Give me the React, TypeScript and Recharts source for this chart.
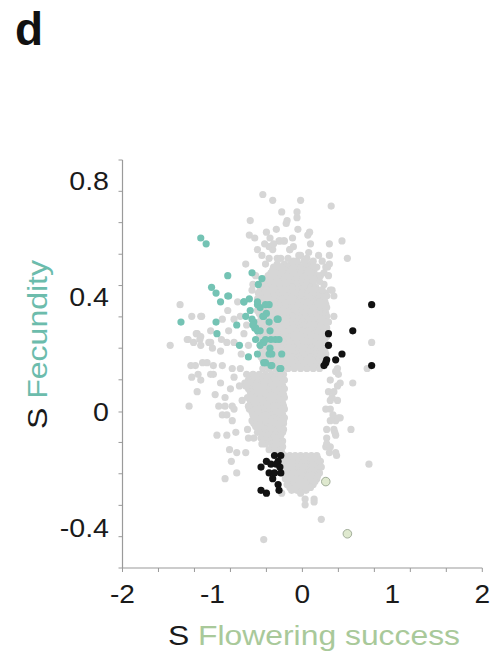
import { Scatter, ScatterChart, XAxis, YAxis } from "recharts";

// tick values
const xTickLabels = [-2, -1, 0, 1, 2];
const xMinorTicks = [-2, -1.6, -1.2, -0.8, -0.4, 0, 0.4, 0.8, 1.2, 1.6, 2];
const yTickLabels = [-0.4, 0, 0.4, 0.8];
const yMinorTicks = [0.869, 0.761, 0.653, 0.544, 0.436, 0.328, 0.22, 0.111, 0, -0.105, -0.213, -0.322, -0.43, -0.538];

// dense gray cloud, rows of [y, xs]
const grayUpperRows: [number, number[]][] = [
	[0.51, [-0.28, -0.2, -0.13, -0.05, 0.03, 0.09]],
	[0.5, [-0.32, -0.24, -0.16, -0.09, -0.01, 0.06, 0.12]],
	[0.49, [-0.33, -0.26, -0.19, -0.12, -0.06, 0.01, 0.07, 0.13]],
	[0.48, [-0.35, -0.29, -0.22, -0.15, -0.08, -0.02, 0.05, 0.11]],
	[0.47, [-0.38, -0.31, -0.24, -0.17, -0.1, -0.03, 0.04, 0.1, 0.16]],
	[0.46, [-0.41, -0.33, -0.26, -0.19, -0.13, -0.06, 0.01, 0.08, 0.14]],
	[0.45, [-0.42, -0.35, -0.28, -0.22, -0.15, -0.08, -0.01, 0.05, 0.12]],
	[0.44, [-0.43, -0.37, -0.3, -0.23, -0.16, -0.09, -0.02, 0.05, 0.12]],
	[0.43, [-0.46, -0.39, -0.32, -0.25, -0.18, -0.11, -0.04, 0.02, 0.09, 0.15]],
	[0.42, [-0.47, -0.4, -0.33, -0.27, -0.2, -0.13, -0.06, 0.01, 0.08, 0.15, 0.21]],
	[0.41, [-0.49, -0.42, -0.35, -0.28, -0.21, -0.14, -0.07, 0, 0.07, 0.13, 0.2, 0.25]],
	[0.4, [-0.46, -0.39, -0.32, -0.25, -0.18, -0.11, -0.04, 0.03, 0.1, 0.16, 0.22, 0.27]],
	[0.39, [-0.5, -0.44, -0.37, -0.3, -0.23, -0.16, -0.09, -0.02, 0.05, 0.11, 0.18, 0.24]],
	[0.38, [-0.43, -0.36, -0.29, -0.22, -0.15, -0.08, -0.01, 0.06, 0.13, 0.19, 0.25]],
	[0.37, [-0.47, -0.4, -0.33, -0.26, -0.19, -0.12, -0.05, 0.02, 0.08, 0.15, 0.21, 0.26]],
	[0.36, [-0.46, -0.39, -0.32, -0.25, -0.18, -0.11, -0.04, 0.03, 0.1, 0.16, 0.23, 0.27]],
	[0.35, [-0.5, -0.43, -0.36, -0.29, -0.22, -0.15, -0.08, -0.01, 0.06, 0.12, 0.19, 0.25]],
	[0.34, [-0.48, -0.41, -0.34, -0.27, -0.2, -0.13, -0.06, 0.01, 0.08, 0.14, 0.2, 0.26]],
	[0.33, [-0.46, -0.39, -0.32, -0.25, -0.18, -0.11, -0.04, 0.03, 0.1, 0.16, 0.22, 0.27]],
	[0.32, [-0.44, -0.37, -0.3, -0.23, -0.16, -0.09, -0.02, 0.05, 0.11, 0.17, 0.24]],
	[0.31, [-0.49, -0.42, -0.35, -0.28, -0.21, -0.14, -0.07, 0, 0.07, 0.13, 0.19, 0.25]],
	[0.3, [-0.47, -0.4, -0.33, -0.26, -0.19, -0.12, -0.05, 0.02, 0.08, 0.15, 0.21, 0.26]],
	[0.29, [-0.45, -0.38, -0.31, -0.24, -0.17, -0.1, -0.03, 0.04, 0.1, 0.16, 0.22, 0.27]],
	[0.28, [-0.43, -0.36, -0.29, -0.22, -0.15, -0.08, -0.01, 0.06, 0.12, 0.18, 0.24]],
	[0.27, [-0.48, -0.41, -0.34, -0.27, -0.2, -0.13, -0.06, 0.01, 0.07, 0.14, 0.2, 0.26]],
	[0.26, [-0.46, -0.39, -0.32, -0.25, -0.18, -0.11, -0.04, 0.03, 0.09, 0.16, 0.22, 0.27]],
	[0.25, [-0.44, -0.37, -0.3, -0.23, -0.16, -0.09, -0.02, 0.05, 0.11, 0.18, 0.24]],
	[0.24, [-0.42, -0.35, -0.28, -0.21, -0.14, -0.07, 0, 0.07, 0.13, 0.2, 0.25]],
	[0.23, [-0.47, -0.4, -0.33, -0.26, -0.19, -0.12, -0.05, 0.02, 0.08, 0.15, 0.21, 0.26]],
	[0.22, [-0.45, -0.38, -0.31, -0.24, -0.17, -0.1, -0.03, 0.04, 0.1, 0.17, 0.23]],
	[0.21, [-0.43, -0.36, -0.29, -0.22, -0.15, -0.08, -0.01, 0.06, 0.12, 0.19, 0.25]],
	[0.2, [-0.41, -0.34, -0.27, -0.2, -0.13, -0.06, 0.01, 0.07, 0.14, 0.2, 0.26]],
	[0.19, [-0.46, -0.39, -0.32, -0.25, -0.18, -0.11, -0.04, 0.03, 0.09, 0.16, 0.22]],
	[0.18, [-0.44, -0.37, -0.3, -0.23, -0.16, -0.09, -0.02, 0.05, 0.11, 0.18, 0.23]],
	[0.17, [-0.42, -0.35, -0.28, -0.21, -0.14, -0.07, 0, 0.06, 0.13, 0.2, 0.24]],
	[0.16, [-0.4, -0.33, -0.26, -0.19, -0.12, -0.05, 0.02, 0.09, 0.15, 0.22]],
	[0.15, [-0.44, -0.37, -0.3, -0.23, -0.16, -0.09, -0.02, 0.05, 0.12, 0.19]],
];

const grayColumnRows: [number, number[]][] = [
	[0.13, [-0.62, -0.55, -0.48, -0.41, -0.34, -0.27, -0.21]],
	[0.12, [-0.58, -0.51, -0.44, -0.37, -0.3, -0.24]],
	[0.11, [-0.6, -0.53, -0.46, -0.39, -0.32, -0.25, -0.2]],
	[0.1, [-0.64, -0.57, -0.5, -0.43, -0.36, -0.29, -0.23]],
	[0.09, [-0.63, -0.56, -0.49, -0.42, -0.35, -0.28, -0.22]],
	[0.08, [-0.6, -0.53, -0.46, -0.39, -0.32, -0.25, -0.2]],
	[0.07, [-0.58, -0.51, -0.44, -0.37, -0.3, -0.23]],
	[0.06, [-0.56, -0.49, -0.42, -0.35, -0.28, -0.21]],
	[0.05, [-0.61, -0.54, -0.47, -0.4, -0.33, -0.26, -0.2]],
	[0.04, [-0.58, -0.51, -0.44, -0.37, -0.3, -0.23]],
	[0.03, [-0.57, -0.5, -0.43, -0.36, -0.29, -0.22]],
	[0.02, [-0.6, -0.53, -0.46, -0.39, -0.32, -0.26, -0.21]],
	[0.01, [-0.59, -0.52, -0.45, -0.38, -0.31, -0.24, -0.2]],
	[0.0, [-0.56, -0.49, -0.42, -0.35, -0.28, -0.23]],
	[-0.01, [-0.55, -0.48, -0.41, -0.34, -0.27, -0.22]],
	[-0.02, [-0.52, -0.45, -0.38, -0.31, -0.25, -0.2]],
	[-0.03, [-0.56, -0.49, -0.42, -0.35, -0.28, -0.21]],
	[-0.04, [-0.54, -0.47, -0.4, -0.33, -0.26, -0.21]],
	[-0.05, [-0.52, -0.45, -0.38, -0.31, -0.24]],
	[-0.06, [-0.48, -0.41, -0.34, -0.27, -0.21]],
	[-0.07, [-0.5, -0.43, -0.36, -0.29, -0.22]],
	[-0.08, [-0.44, -0.37, -0.3, -0.24]],
	[-0.09, [-0.46, -0.39, -0.32, -0.25]],
	[-0.1, [-0.43, -0.36, -0.29, -0.22]],
	[-0.11, [-0.41, -0.34, -0.27, -0.23]],
	[-0.12, [-0.33, -0.27, -0.22]],
	[-0.13, [-0.37, -0.3, -0.25]],
	[-0.14, [-0.28, -0.23]],
];

const grayBottomRows: [number, number[]][] = [
	[-0.15, [-0.2, -0.14, -0.08, -0.02, 0.04, 0.1, 0.16]],
	[-0.16, [-0.19, -0.13, -0.07, -0.01, 0.05, 0.11, 0.17]],
	[-0.17, [-0.22, -0.16, -0.1, -0.04, 0.02, 0.08, 0.14, 0.2]],
	[-0.18, [-0.19, -0.13, -0.07, -0.01, 0.05, 0.11, 0.17]],
	[-0.19, [-0.2, -0.14, -0.08, -0.02, 0.04, 0.1, 0.16, 0.21]],
	[-0.2, [-0.19, -0.13, -0.07, -0.01, 0.05, 0.11, 0.17]],
	[-0.21, [-0.22, -0.16, -0.1, -0.04, 0.02, 0.08, 0.14, 0.19]],
	[-0.22, [-0.18, -0.12, -0.06, 0, 0.06, 0.12, 0.17]],
	[-0.23, [-0.19, -0.13, -0.07, -0.01, 0.05, 0.11, 0.16]],
	[-0.24, [-0.15, -0.09, -0.03, 0.03, 0.09, 0.14]],
	[-0.25, [-0.17, -0.11, -0.05, 0.01, 0.07, 0.12]],
	[-0.26, [-0.14, -0.08, -0.02, 0.04, 0.09]],
	[-0.27, [-0.12, -0.06, 0, 0.04]],
];

// scattered gray points [x, y]
const grayTop = [
	[-0.44, 0.75], [-0.33, 0.73], [-0.23, 0.69], [-0.58, 0.66], [-0.17, 0.66], [-0.29, 0.63], [-0.4, 0.62],
	[-0.59, 0.61], [-0.53, 0.6], [-0.36, 0.6], [-0.26, 0.59], [-0.21, 0.59], [-0.37, 0.57], [-0.5, 0.56],
	[-0.33, 0.56], [-0.45, 0.54], [-0.14, 0.56], [-0.28, 0.53], [-0.37, 0.53], [-0.63, 0.51], [-0.06, 0.52],
	[-0.02, 0.73], [-0.06, 0.69], [-0.06, 0.67], [0.32, 0.71], [-0.18, 0.65], [-0.05, 0.63], [0.08, 0.62],
	[0.06, 0.61], [-0.2, 0.59], [-0.25, 0.59], [-0.11, 0.6], [-0.42, 0.58], [-0.32, 0.58], [0.09, 0.58],
	[0.3, 0.58], [0.44, 0.59], [-0.1, 0.57], [-0.14, 0.56], [-0.04, 0.54], [0.07, 0.55], [0.18, 0.54],
	[0.5, 0.53], [0.3, 0.54], [-0.1, 0.52], [0.02, 0.52], [0.12, 0.52], [0.22, 0.52], [0.3, 0.51],
	[0.26, 0.5], [0.16, 0.5], [0.29, 0.47], [0.33, 0.42], [0.35, 0.4], [0.35, 0.33], [0.29, 0.31],
	[0.28, 0.5], [0.24, 0.44], [0.31, 0.42], [-0.24, 0.53], [-0.16, 0.53], [-0.02, 0.54], [0.05, 0.53],
	[-0.41, 0.51], [-0.52, 0.47], [-0.55, 0.44], [0.2, 0.47], [0.24, 0.48], [0.19, 0.45], [0.22, 0.42],
];

const grayLeft = [
	[-1.36, 0.37], [-1.23, 0.33], [-1.13, 0.33], [-0.72, 0.38], [-0.89, 0.32], [-0.83, 0.35], [-0.76, 0.32],
	[-1.02, 0.28], [-1.17, 0.27], [-1.27, 0.25], [-1.21, 0.24], [-1.14, 0.25], [-1.04, 0.24], [-1.47, 0.23],
	[-0.9, 0.25], [-0.76, 0.24], [-0.65, 0.27], [-0.69, 0.33], [-0.56, 0.42], [-1.12, 0.33], [-1.18, 0.27],
	[-1.13, 0.26], [-1.28, 0.25], [-1.13, 0.23], [-1.02, 0.24], [-1.0, 0.22], [-0.91, 0.21], [-0.82, 0.28],
	[-0.84, 0.24], [-1.24, 0.16], [-1.19, 0.16], [-1.11, 0.17], [-1.06, 0.17], [-0.99, 0.16], [-0.89, 0.16],
	[-1.23, 0.12], [-1.13, 0.11], [-0.99, 0.13], [-1.02, 0.13], [-0.76, 0.12], [-0.69, 0.15], [-0.78, 0.15],
	[-0.91, 0.1], [-0.8, 0.08], [-1.17, 0.07], [-0.97, 0.06], [-0.86, 0.05], [-0.78, 0.02], [-0.93, 0.02],
	[-0.67, 0.04], [-1.26, 0.02], [-0.86, 0.02], [-0.76, 0.01], [-0.89, -0.01], [-0.84, -0.01], [-0.78, -0.03],
	[-0.95, -0.08], [-0.84, -0.08], [-0.74, -0.07], [-0.61, -0.06], [-0.54, -0.09], [-0.81, -0.13],
	[-0.73, -0.14], [-0.63, -0.14], [-0.79, -0.17], [-0.45, -0.11], [-0.86, -0.23], [-0.73, -0.21],
	[-0.43, -0.44], [-1.16, 0.13], [-0.6, -0.09], [-0.7, 0.09], [-0.68, 0.2], [-0.6, 0.23], [-0.62, 0.3],
];

const grayRight = [
	[0.31, 0.11], [0.39, 0.09], [0.29, 0.07], [0.35, 0.07], [0.39, 0.04], [0.31, 0.04], [0.26, 0.01],
	[0.31, 0.01], [0.4, -0.02], [0.31, -0.03], [0.37, -0.03], [0.27, -0.06], [0.35, -0.06], [0.27, -0.09],
	[0.37, -0.08], [0.26, -0.12], [0.3, -0.14], [0.38, -0.15], [0.34, -0.01], [0.36, -0.07], [0.27, -0.11],
	[0.37, -0.14], [0.37, 0.14], [0.4, 0.13], [0.42, 0.1], [0.33, 0.05], [0.42, -0.02], [0.31, -0.12],
	[0.72, 0.15], [0.39, 0.15], [0.56, 0.1], [0.54, -0.06], [0.74, -0.18], [0.21, -0.37], [0.13, -0.31],
	[0.03, -0.32], [0.03, -0.3], [-0.02, -0.28], [-0.23, -0.28], [0.13, -0.3], [0.77, 0.24],
];

const tealPoints = [
	[-1.13, 0.6], [-1.07, 0.58], [-0.83, 0.47], [-1.01, 0.43], [-0.96, 0.41], [-0.83, 0.4], [-0.91, 0.38],
	[-1.35, 0.31], [-0.96, 0.31], [-0.95, 0.27], [-0.56, 0.48], [-0.45, 0.46], [-0.49, 0.44], [-0.65, 0.38],
	[-0.59, 0.39], [-0.73, 0.3], [-0.63, 0.33], [-0.5, 0.37], [-0.47, 0.36], [-0.37, 0.37], [-0.4, 0.34],
	[-0.44, 0.33], [-0.27, 0.32], [-0.56, 0.32], [-0.53, 0.29], [-0.37, 0.31], [-0.5, 0.28], [-0.36, 0.28],
	[-0.7, 0.23], [-0.52, 0.25], [-0.44, 0.24], [-0.35, 0.25], [-0.26, 0.25], [-0.6, 0.19], [-0.43, 0.24],
	[-0.36, 0.22], [-0.23, 0.2], [-0.37, 0.2], [-0.43, 0.17], [-0.35, 0.16], [-0.25, 0.15], [-0.5, 0.2],
	[-0.5, 0.38], [-0.41, 0.37], [-0.43, 0.33], [-0.54, 0.31], [-0.28, 0.32], [-0.52, 0.29], [-0.47, 0.28],
	[-0.41, 0.25], [-0.3, 0.25], [-0.47, 0.23], [-0.34, 0.2], [-0.41, 0.17], [-0.34, 0.16], [-0.24, 0.15],
	[-0.82, 0.4], [-0.65, 0.38], [-0.58, 0.35], [-0.55, 0.3],
];

const blackPoints = [
	[0.77, 0.37], [0.56, 0.28], [0.29, 0.27], [0.29, 0.23], [0.27, 0.18], [0.26, 0.17], [0.24, 0.16],
	[0.37, 0.18], [0.44, 0.2], [0.77, 0.16],
	[-0.31, -0.15], [-0.24, -0.15], [-0.4, -0.17], [-0.35, -0.18], [-0.27, -0.17], [-0.29, -0.18],
	[-0.25, -0.19], [-0.46, -0.19], [-0.37, -0.21], [-0.31, -0.21], [-0.24, -0.21], [-0.33, -0.23],
	[-0.27, -0.25], [-0.26, -0.27], [-0.46, -0.27], [-0.4, -0.28],
];

const greenPoints = [
	[0.26, -0.24],
	[0.5, -0.42],
];

const fromRows = (rows: [number, number[]][]) =>
	rows.flatMap(([y, xs]) => xs.map((x) => ({ x, y })));
const fromPairs = (pairs: number[][]) => pairs.map(([x, y]) => ({ x, y }));

const grayData = [
	...fromRows(grayUpperRows),
	...fromRows(grayColumnRows),
	...fromRows(grayBottomRows),
	...fromPairs(grayTop),
	...fromPairs(grayLeft),
	...fromPairs(grayRight),
];

const FONT = "'Liberation Sans', Arial, sans-serif";
const AXIS = "#9a9a9a";
const PLOT_LEFT = 122.5;
const PLOT_BOTTOM = 568;

const dot =
	(fill: string, r: number, stroke = "none") =>
	(props: any) => (
		<circle cx={props.cx} cy={props.cy} r={r} fill={fill} stroke={stroke} strokeWidth={0.8} />
	);

const near = (list: number[], v: number) => list.some((t) => Math.abs(t - v) < 1e-6);

const XTick = (props: any) => {
	const { x, payload } = props;
	const v = payload.value;
	return (
		<g>
			{near(xMinorTicks, v) && (
				<line x1={x} x2={x} y1={PLOT_BOTTOM} y2={PLOT_BOTTOM + 4} stroke={AXIS} />
			)}
			{near(xTickLabels, v) && (
				<text
					transform={`translate(${x},603) scale(1.08,1)`}
					textAnchor="middle"
					fontSize={26}
					fontFamily={FONT}
					fill="#1a1a1a"
				>
					{v}
				</text>
			)}
		</g>
	);
};

const YTick = (props: any) => {
	const { y, payload } = props;
	const v = payload.value;
	return (
		<g>
			{near(yMinorTicks, v) && (
				<line x1={PLOT_LEFT - 4} x2={PLOT_LEFT} y1={y} y2={y} stroke={AXIS} />
			)}
			{near(yTickLabels, v) && (
				<text
					transform={`translate(109,${y + 9.5}) scale(1.1,1)`}
					textAnchor="end"
					fontSize={26}
					fontFamily={FONT}
					fill="#1a1a1a"
				>
					{v}
				</text>
			)}
		</g>
	);
};

const xTicks = Array.from(new Set([...xMinorTicks, ...xTickLabels])).sort((a, b) => a - b);
const yTicks = Array.from(new Set([...yMinorTicks, ...yTickLabels])).sort((a, b) => a - b);

export default function App() {
	return (
		<div style={{ position: "relative", width: 493, height: 653, background: "#fff" }}>
			<style>
				{"html, body { margin: 0; padding: 0; } #root { width: 493px; height: 653px; } .recharts-surface { overflow: visible; }"}
			</style>
			<ScatterChart
				width={493}
				height={653}
				margin={{ top: 160, right: 10.7, bottom: 0, left: 0.5 }}
			>
				<XAxis
					type="number"
					dataKey="x"
					domain={[-2, 2]}
					ticks={xTicks}
					interval={0}
					tick={<XTick />}
					tickLine={false}
					axisLine={{ stroke: AXIS, strokeWidth: 1.2 }}
					height={85}
					allowDataOverflow
				/>
				<YAxis
					type="number"
					dataKey="y"
					domain={[-0.538, 0.869]}
					ticks={yTicks}
					interval={0}
					tick={<YTick />}
					tickLine={false}
					axisLine={{ stroke: AXIS, strokeWidth: 1.2 }}
					width={122}
					allowDataOverflow
				/>
				<Scatter data={grayData} shape={dot("#d6d6d6", 3.6)} isAnimationActive={false} />
				<Scatter data={fromPairs(tealPoints)} shape={dot("#74c3b4", 3.6)} isAnimationActive={false} />
				<Scatter data={fromPairs(blackPoints)} shape={dot("#121212", 3.6)} isAnimationActive={false} />
				<Scatter
					data={fromPairs(greenPoints)}
					shape={dot("#dfe9cf", 4.3, "#8e9c86")}
					isAnimationActive={false}
				/>
			</ScatterChart>
			<svg
				width={493}
				height={653}
				style={{ position: "absolute", left: 0, top: 0, pointerEvents: "none" }}
			>
				<text x={15} y={45} fontSize={46} fontWeight="bold" fontFamily={FONT} fill="#111">
					d
				</text>
				<text
					x={168}
					y={645}
					fontSize={27}
					fontFamily={FONT}
					textLength={292}
					lengthAdjust="spacingAndGlyphs"
				>
					<tspan fill="#1a1a1a">S </tspan>
					<tspan fill="#a9c99a">Flowering success</tspan>
				</text>
				<text
					transform="translate(47,429) rotate(-90)"
					fontSize={27}
					fontFamily={FONT}
					textLength={169}
					lengthAdjust="spacingAndGlyphs"
				>
					<tspan fill="#1a1a1a">S </tspan>
					<tspan fill="#6cbcac">Fecundity</tspan>
				</text>
			</svg>
		</div>
	);
}
